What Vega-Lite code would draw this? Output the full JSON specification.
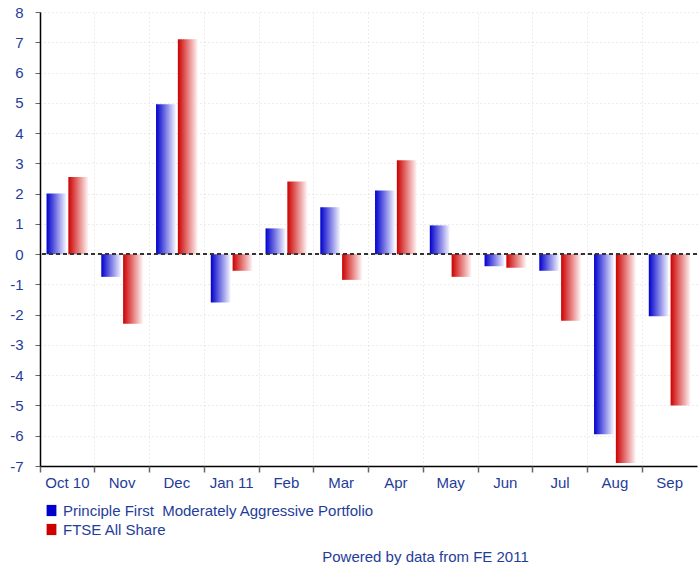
{
  "$schema": "https://vega.github.io/schema/vega-lite/v6.json",
  "width": 657,
  "height": 454,
  "autosize": "none",
  "padding": {"left": 40, "top": 12, "right": 2, "bottom": 105},
  "background": "white",
  "config": {"font": "Liberation Sans", "view": {"stroke": null}, "axisY": {"labelOverlap": false}},
  "title": {
    "text": "Powered by data from FE 2011",
    "orient": "bottom",
    "anchor": "middle",
    "dx": 57,
    "offset": 12,
    "fontSize": 15,
    "fontWeight": "normal",
    "color": "#1f3d9a"
  },
  "data": {
    "values": [
      {"month": "Oct 10", "series": "Principle First\u00a0 Moderately Aggressive Portfolio", "value": 2.0},
      {"month": "Oct 10", "series": "FTSE All Share", "value": 2.55},
      {"month": "Nov", "series": "Principle First\u00a0 Moderately Aggressive Portfolio", "value": -0.75},
      {"month": "Nov", "series": "FTSE All Share", "value": -2.3},
      {"month": "Dec", "series": "Principle First\u00a0 Moderately Aggressive Portfolio", "value": 4.95},
      {"month": "Dec", "series": "FTSE All Share", "value": 7.1},
      {"month": "Jan 11", "series": "Principle First\u00a0 Moderately Aggressive Portfolio", "value": -1.6},
      {"month": "Jan 11", "series": "FTSE All Share", "value": -0.55},
      {"month": "Feb", "series": "Principle First\u00a0 Moderately Aggressive Portfolio", "value": 0.85},
      {"month": "Feb", "series": "FTSE All Share", "value": 2.4},
      {"month": "Mar", "series": "Principle First\u00a0 Moderately Aggressive Portfolio", "value": 1.55},
      {"month": "Mar", "series": "FTSE All Share", "value": -0.85},
      {"month": "Apr", "series": "Principle First\u00a0 Moderately Aggressive Portfolio", "value": 2.1},
      {"month": "Apr", "series": "FTSE All Share", "value": 3.1},
      {"month": "May", "series": "Principle First\u00a0 Moderately Aggressive Portfolio", "value": 0.95},
      {"month": "May", "series": "FTSE All Share", "value": -0.75},
      {"month": "Jun", "series": "Principle First\u00a0 Moderately Aggressive Portfolio", "value": -0.4},
      {"month": "Jun", "series": "FTSE All Share", "value": -0.45},
      {"month": "Jul", "series": "Principle First\u00a0 Moderately Aggressive Portfolio", "value": -0.55},
      {"month": "Jul", "series": "FTSE All Share", "value": -2.2},
      {"month": "Aug", "series": "Principle First\u00a0 Moderately Aggressive Portfolio", "value": -5.95},
      {"month": "Aug", "series": "FTSE All Share", "value": -6.9},
      {"month": "Sep", "series": "Principle First\u00a0 Moderately Aggressive Portfolio", "value": -2.05},
      {"month": "Sep", "series": "FTSE All Share", "value": -5.0}
    ]
  },
  "resolve": {"axis": {"x": "independent"}},
  "layer": [
    {
      "mark": {
        "type": "bar",
        "fill": {"expr": "datum.series == 'FTSE All Share' ? {gradient: 'linear', x1: 0, y1: 0, x2: 1, y2: 0, stops: [{offset: 0, color: '#cc0000'}, {offset: 1, color: '#fff6f6'}]} : {gradient: 'linear', x1: 0, y1: 0, x2: 1, y2: 0, stops: [{offset: 0, color: '#0000cc'}, {offset: 1, color: '#f6f6ff'}]}"}
      },
      "encoding": {
        "x": {
          "field": "month",
          "type": "nominal",
          "sort": null,
          "scale": {"paddingInner": 0, "paddingOuter": 0},
          "axis": {
            "title": null,
            "orient": "bottom",
            "labelAngle": 0,
            "labelFontSize": 15,
            "labelColor": "#1f3d9a",
            "labelPadding": 9,
            "ticks": false,
            "grid": false,
            "domain": true,
            "domainColor": "#000000",
            "domainWidth": 1.5
          }
        },
        "xOffset": {
          "field": "series",
          "type": "nominal",
          "sort": null,
          "scale": {"paddingInner": 0.09, "paddingOuter": 0.3}
        },
        "y": {
          "field": "value",
          "type": "quantitative",
          "scale": {"domain": [-7, 8], "nice": false, "zero": false},
          "axis": {
            "title": null,
            "values": [-7, -6, -5, -4, -3, -2, -1, 0, 1, 2, 3, 4, 5, 6, 7, 8],
            "tickCount": 20,
            "labelExpr": "datum.value < 0 ? '-' + abs(datum.value) : '' + datum.value",
            "labelOverlap": false,
            "labelFontSize": 15,
            "labelColor": "#1f3d9a",
            "labelPadding": 12,
            "tickSize": 5,
            "tickColor": "#666666",
            "domainColor": "#000000",
            "domainWidth": 1.5,
            "grid": true,
            "gridColor": "#d8d8d8",
            "gridDash": [1, 3]
          }
        },
        "color": {
          "field": "series",
          "type": "nominal",
          "sort": null,
          "scale": {
            "domain": ["Principle First\u00a0 Moderately Aggressive Portfolio", "FTSE All Share"],
            "range": ["#0000cc", "#cc0000"]
          },
          "legend": {
            "title": null,
            "orient": "none",
            "legendX": 4,
            "legendY": 491,
            "direction": "vertical",
            "symbolType": "M-0.7,-0.8H0.7V0.8H-0.7Z",
            "symbolSize": 196,
            "symbolStrokeWidth": 0,
            "symbolOpacity": 1,
            "labelFontSize": 15,
            "labelColor": "#1f3d9a",
            "labelLimit": 600,
            "labelOffset": 4,
            "rowPadding": 3,
            "encode": {
              "symbols": {
                "update": {
                  "fill": {"signal": "datum.label == 'FTSE All Share' ? {gradient: 'linear', x1: 0, y1: 0, x2: 1, y2: 0, stops: [{offset: 0, color: '#cc0000'}, {offset: 1, color: '#fff6f6'}]} : {gradient: 'linear', x1: 0, y1: 0, x2: 1, y2: 0, stops: [{offset: 0, color: '#0000cc'}, {offset: 1, color: '#f6f6ff'}]}"}
                }
              }
            }
          }
        }
      }
    },
    {
      "mark": {"type": "tick", "opacity": 0},
      "encoding": {
        "x": {
          "field": "month",
          "type": "nominal",
          "sort": null,
          "axis": {
            "title": null,
            "orient": "bottom",
            "labels": false,
            "domain": false,
            "ticks": true,
            "tickSize": 6,
            "tickColor": "#666666",
            "tickWidth": 1.5,
            "bandPosition": 0,
            "grid": true,
            "gridColor": "#d8d8d8",
            "gridDash": [1, 3]
          }
        }
      }
    },
    {
      "mark": {"type": "rule", "strokeDash": [4, 3], "color": "#333333", "strokeWidth": 1},
      "encoding": {
        "y": {
          "datum": 0,
          "axis": {
            "title": null,
            "values": [-7, -6, -5, -4, -3, -2, -1, 0, 1, 2, 3, 4, 5, 6, 7, 8],
            "tickCount": 20,
            "labelExpr": "datum.value < 0 ? '-' + abs(datum.value) : '' + datum.value",
            "labelOverlap": false,
            "labelFontSize": 15,
            "labelColor": "#1f3d9a",
            "labelPadding": 12,
            "tickSize": 5,
            "tickColor": "#666666",
            "domainColor": "#000000",
            "domainWidth": 1.5,
            "grid": true,
            "gridColor": "#d8d8d8",
            "gridDash": [1, 3]
          }
        }
      }
    }
  ]
}
